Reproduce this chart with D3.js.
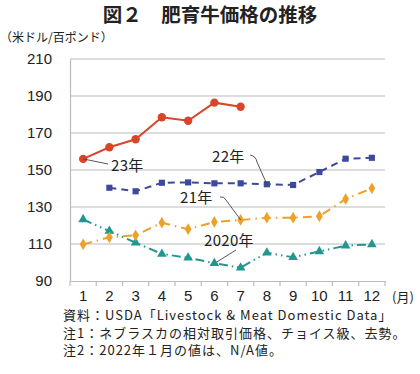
<!DOCTYPE html>
<html>
<head>
<meta charset="utf-8">
<script src="https://cdn.jsdelivr.net/npm/d3@7"></script>
<style>
body{margin:0;background:#fff;}
text{font-family:"Noto Sans CJK JP","Noto Sans",sans-serif;fill:#222;}
</style>
</head>
<body>
<div id="chart"></div>
<script>
//data
var months = [1,2,3,4,5,6,7,8,9,10,11,12];
var yTicks = [90,110,130,150,170,190,210];
var y2023 = [156,162.3,166.6,178.5,176.6,186.4,184.2];
var y2022 = [null,140.4,138.5,143.1,143.3,142.8,142.8,142.3,141.9,148.9,156.1,156.6];
var y2021 = [109.8,113.6,114.7,121.5,118,121.9,123,124.2,124.2,125,134.3,140.1];
var y2020 = [123.3,117,110.7,104.6,102.6,99.6,97.2,105.3,102.8,106,109.1,109.8];
var notes = ["資料：USDA「Livestock & Meat Domestic Data」",
	"注1：ネブラスカの相対取引価格、チョイス級、去勢。",
	"注2：2022年１月の値は、N/A値。"];

function drawChart(){
	var W = 420, H = 374;
	var pLeft = 70, pRight = 385, pTop = 59, pBottom = 281;
	var numFont = "Liberation Sans, Arial, sans-serif";

	var svg = d3.select("#chart").append("svg")
		.attr("width", W)
		.attr("height", H);

	//title
	svg.append("text")
		.attr("x", 210).attr("y", 22)
		.attr("text-anchor", "middle")
		.style("font-size", "19.5px")
		.style("font-weight", "bold")
		.text("図２　肥育牛価格の推移");

	svg.append("text")
		.attr("x", 0).attr("y", 42)
		.style("font-size", "12px")
		.text("（米ドル/百ポンド）");

	var x = d3.scaleBand().domain(months).range([pLeft, pRight]);
	var y = d3.scaleLinear().domain([90, 210]).range([pBottom, pTop]);

	//gridlines
	svg.append("g").selectAll("line").data(yTicks.slice(1)).enter().append("line")
		.attr("x1", pLeft).attr("x2", pRight)
		.attr("y1", function(d){return y(d);})
		.attr("y2", function(d){return y(d);})
		.attr("stroke", "#bbb")
		.attr("stroke-width", 1.2);

	//y axis
	var yAxis = d3.axisLeft(y).tickValues(yTicks).tickSize(0).tickPadding(18);
	var yg = svg.append("g").attr("transform", "translate(" + pLeft + ",0)").call(yAxis);
	yg.select(".domain").attr("stroke", "#bbb").attr("stroke-width", 1.2);
	yg.selectAll("text").style("font-size", "15px").style("font-family", numFont).attr("fill", "#222");

	//x axis
	var xAxis = d3.axisBottom(x).tickSize(0).tickPadding(9);
	var xg = svg.append("g").attr("transform", "translate(0," + pBottom + ")").call(xAxis);
	xg.select(".domain").attr("stroke", "#bbb").attr("stroke-width", 1.2);
	xg.selectAll("text").style("font-size", "15px").style("font-family", numFont).attr("fill", "#222");
	//ticks at band edges
	var edges = months.map(function(m){return x(m);}).concat([pRight]);
	svg.append("g").selectAll("line").data(edges).enter().append("line")
		.attr("x1", function(d){return d;}).attr("x2", function(d){return d;})
		.attr("y1", pBottom).attr("y2", pBottom + 5)
		.attr("stroke", "#bbb")
		.attr("stroke-width", 1.2);

	svg.append("text")
		.attr("x", 392).attr("y", 302)
		.style("font-size", "13px")
		.text("(月)");

	function cx(i){return x(months[i]) + x.bandwidth()/2;}

	var line = d3.line()
		.defined(function(d){return d !== null;})
		.x(function(d, i){return cx(i);})
		.y(function(d){return y(d);});

	var series = [
		{vals: y2020, color: "#23978f", dash: "9,4,1.5,4,1.5,4", sym: d3.symbolTriangle, size: 40},
		{vals: y2021, color: "#eca12a", dash: "9,5,1.5,5", sym: d3.symbolDiamond, size: 40},
		{vals: y2022, color: "#3d4a9c", dash: "7,5", sym: d3.symbolSquare, size: 38},
		{vals: y2023, color: "#d8462a", dash: null, sym: d3.symbolCircle, size: 55}
	];

	series.forEach(function(s){
		svg.append("path")
			.datum(s.vals)
			.attr("d", line)
			.attr("fill", "none")
			.attr("stroke", s.color)
			.attr("stroke-width", 2)
			.attr("stroke-dasharray", s.dash);
		svg.append("g").selectAll("path")
			.data(s.vals.map(function(v, i){return [i, v];}).filter(function(d){return d[1] !== null;}))
			.enter().append("path")
			.attr("transform", function(d){return "translate(" + cx(d[0]) + "," + y(d[1]) + ")";})
			.attr("d", d3.symbol().type(s.sym).size(s.size))
			.attr("fill", s.color);
	});

	//labels with leader lines
	var labels = [
		{t: "23年", tx: 111, ty: 171, path: "M" + cx(0) + "," + y(y2023[0]) + " L108,164"},
		{t: "22年", tx: 212, ty: 162, path: "M250,155 Q256,156 257,162 L" + cx(7) + "," + y(y2022[7])},
		{t: "21年", tx: 180, ty: 203, path: "M220,197 Q224,196 226,200 L" + cx(6) + "," + y(y2021[6])},
		{t: "2020年", tx: 204, ty: 246, path: "M236,250 L" + (cx(5) + 2) + "," + (y(y2020[5]) - 1)}
	];
	labels.forEach(function(l){
		svg.append("path").attr("d", l.path).attr("fill", "none").attr("stroke", "#444").attr("stroke-width", 0.9);
		svg.append("text").attr("x", l.tx).attr("y", l.ty)
			.style("font-size", "15px")
			.style("letter-spacing", "0.3px")
			.text(l.t);
	});

	//notes
	svg.append("g").selectAll("text").data(notes).enter().append("text")
		.attr("x", 63)
		.attr("y", function(d, i){return 320 + i*17.5;})
		.style("font-size", "13px")
		.style("letter-spacing", "1px")
		.text(function(d){return d;});
}

drawChart();
</script>
</body>
</html>
